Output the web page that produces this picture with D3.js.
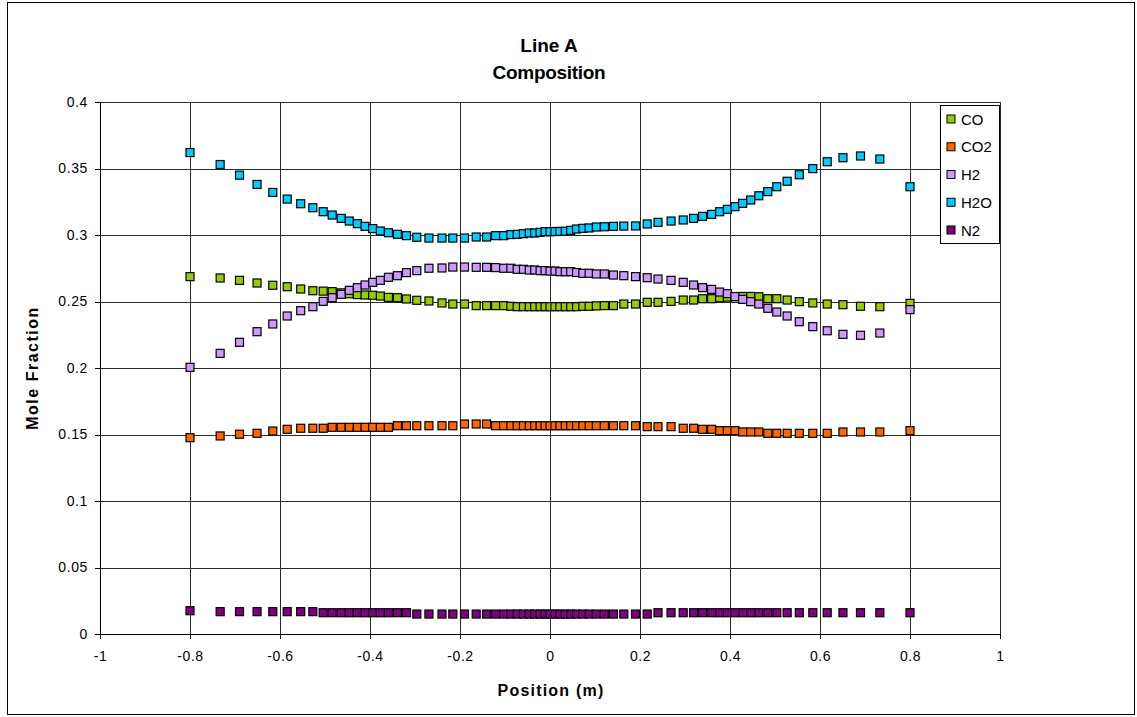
<!DOCTYPE html>
<html>
<head>
<meta charset="utf-8">
<script src="https://cdn.jsdelivr.net/npm/d3@7"></script>
<style>
  html, body { margin: 0; padding: 0; background: #fff; }
  svg { display: block; font-family: Arial, "Liberation Sans", sans-serif; }
</style>
</head>
<body>
<svg id="chart" width="1137" height="717"></svg>
<script>
// ---------- data ----------
const positions = [-0.8,-0.733,-0.690,-0.651,-0.616,-0.584,-0.554,-0.527,-0.504,-0.484,-0.464,-0.446,-0.428,-0.411,-0.394,-0.377,-0.359,-0.339,-0.319,-0.296,-0.269,-0.240,-0.216,-0.190,-0.164,-0.141,-0.121,-0.103,-0.087,-0.073,-0.059,-0.046,-0.034,-0.022,-0.011,0,
  0.011,0.022,0.034,0.046,0.059,0.073,0.087,0.103,0.121,0.141,0.164,0.190,0.216,0.240,0.269,0.296,0.319,0.339,0.359,0.377,0.394,0.411,0.428,0.446,0.464,0.484,0.504,0.527,0.554,0.584,0.616,0.651,0.690,0.733,0.8];

const seriesNames = ["CO", "CO2", "H2", "H2O", "N2"];

const CO = [0.2687,0.2677,0.2659,0.2639,0.2622,0.2611,0.2594,0.2581,0.2578,0.2574,0.2565,0.2558,0.2552,0.2549,0.2547,0.2541,0.2531,0.2529,0.2519,0.2509,0.2504,0.2489,0.2481,0.2481,0.2469,0.2469,0.2469,0.2469,0.2464,0.2461,0.2461,0.2461,0.2461,0.2461,0.2461,0.2461,
  0.2461,0.2461,0.2461,0.2461,0.2461,0.2464,0.2464,0.2467,0.2469,0.2469,0.2481,0.2481,0.2494,0.2494,0.2501,0.2511,0.2511,0.2521,0.2521,0.2528,0.2533,0.2536,0.2538,0.2538,0.2536,0.2521,0.2521,0.2511,0.2499,0.2489,0.2481,0.2476,0.2464,0.2461,0.2486];

const CO2 = [0.1476,0.1489,0.1502,0.1509,0.1526,0.1539,0.1547,0.1547,0.1547,
  0.1554,0.1554,0.1554,0.1554,0.1554,0.1554,0.1554,0.1554,
  0.1566,0.1566,0.1566,0.1566,0.1566,0.1566,
  0.1579,0.1579,0.1579,
  0.1566,0.1566,0.1566,0.1566,0.1566,0.1566,0.1566,0.1566,0.1566,0.1566,0.1566,0.1566,0.1566,0.1566,0.1566,0.1566,0.1566,0.1566,0.1566,0.1566,0.1566,0.1566,
  0.1559,0.1559,0.1559,
  0.1547,0.1547,
  0.1539,0.1539,
  0.1529,0.1529,0.1529,
  0.1519,0.1519,0.1519,
  0.1509,0.1509,0.1509,0.1509,0.1509,0.1509,
  0.1519,0.1519,0.1519,
  0.1529];

const H2 = [0.2005,0.2110,0.2193,0.2273,0.2331,0.2391,0.2431,0.2461,0.2501,0.2529,0.2554,0.2584,0.2604,0.2624,0.2644,0.2659,0.2682,0.2694,0.2717,0.2732,0.2750,0.2752,0.2759,0.2759,0.2757,0.2757,0.2755,0.2750,0.2750,0.2742,0.2742,0.2737,0.2737,0.2732,0.2732,0.2729,
  0.2729,0.2724,0.2724,0.2724,0.2718,0.2712,0.2712,0.2707,0.2707,0.2699,0.2694,0.2687,0.2679,0.2669,0.2659,0.2644,0.2624,0.2604,0.2591,0.2571,0.2559,0.2537,0.2516,0.2499,0.2481,0.2449,0.2421,0.2391,0.2348,0.2311,0.2280,0.2253,0.2246,0.2263,0.2439];

const H2O = [0.3620,0.3530,0.3450,0.3380,0.3320,0.3270,0.3235,0.3205,0.3175,0.3150,0.3125,0.3105,0.3085,0.3065,0.3048,0.3030,0.3017,0.3005,0.2995,0.2983,0.2977,0.2977,0.2977,0.2977,0.2985,0.2985,0.2995,0.2995,0.3003,0.3005,0.3010,0.3015,0.3015,0.3020,0.3025,0.3025,
  0.3026,0.3027,0.3028,0.3035,0.3045,0.3050,0.3053,0.3060,0.3062,0.3065,0.3067,0.3068,0.3083,0.3095,0.3105,0.3113,0.3125,0.3140,0.3155,0.3175,0.3193,0.3213,0.3238,0.3263,0.3295,0.3326,0.3363,0.3404,0.3453,0.3499,0.3551,0.3581,0.3594,0.3571,0.3363];

const N2 = [0.0175,
  0.0168,0.0168,0.0168,0.0168,0.0168,0.0168,0.0168,
  0.0160,0.0160,0.0160,0.0160,0.0160,0.0160,0.0160,0.0160,0.0160,0.0160,0.0160,
  0.0150,0.0150,0.0150,0.0150,0.0150,0.0150,0.0150,0.0150,0.0150,0.0150,0.0150,0.0150,0.0150,0.0150,0.0150,0.0150,0.0150,0.0150,0.0150,0.0150,0.0150,0.0150,0.0150,0.0150,0.0150,0.0150,0.0150,0.0150,0.0150,0.0150,
  0.0160,0.0160,0.0160,0.0160,0.0160,0.0160,0.0160,0.0160,0.0160,0.0160,0.0160,0.0160,0.0160,0.0160,0.0160,0.0160,0.0160,0.0160,0.0160,0.0160,0.0160,0.0160];

const xTickValues = [-1,-0.8,-0.6,-0.4,-0.2,0,0.2,0.4,0.6,0.8,1];
const xTickLabels = ["-1","-0.8","-0.6","-0.4","-0.2","0","0.2","0.4","0.6","0.8","1"];
const yTickValues = [0,0.05,0.1,0.15,0.2,0.25,0.3,0.35,0.4];
const yTickLabels = ["0","0.05","0.1","0.15","0.2","0.25","0.3","0.35","0.4"];

const colors = {CO: "#99CC00", CO2: "#FF6600", H2: "#CC99FF", H2O: "#00CCFF", N2: "#800080"};
const valuesByName = {CO: CO, CO2: CO2, H2: H2, H2O: H2O, N2: N2};

// ---------- layout ----------
const plot = {left: 100, right: 1000, top: 102, bottom: 634};

const svg = d3.select("#chart");

// outer chart border
svg.append("rect").attr("x", 7.5).attr("y", 2.5).attr("width", 1127).attr("height", 712)
  .attr("fill", "#fff").attr("stroke", "#000").attr("stroke-width", 1);

const x = d3.scaleLinear().domain([-1, 1]).range([plot.left, plot.right]);
const y = d3.scaleLinear().domain([0, 0.4]).range([plot.bottom, plot.top]);

// plot background
svg.append("rect").attr("x", plot.left).attr("y", plot.top)
  .attr("width", plot.right - plot.left).attr("height", plot.bottom - plot.top)
  .attr("fill", "#fff");

// gridlines
const grid = svg.append("g").attr("shape-rendering", "crispEdges");
grid.selectAll("line.h").data(yTickValues.slice(1)).join("line")
  .attr("x1", plot.left).attr("x2", plot.right)
  .attr("y1", d => Math.round(y(d)) + 0.5).attr("y2", d => Math.round(y(d)) + 0.5)
  .attr("stroke", "#2a2a2a").attr("stroke-width", 1);
grid.selectAll("line.v").data(xTickValues.slice(1)).join("line")
  .attr("y1", plot.top).attr("y2", plot.bottom)
  .attr("x1", d => Math.round(x(d)) + 0.5).attr("x2", d => Math.round(x(d)) + 0.5)
  .attr("stroke", "#2a2a2a").attr("stroke-width", 1);

// axes
const xAxis = d3.axisBottom(x).tickValues(xTickValues)
  .tickFormat((d, i) => xTickLabels[i]).tickSizeOuter(0).tickSizeInner(5).tickPadding(12);
const yAxis = d3.axisLeft(y).tickValues(yTickValues)
  .tickFormat((d, i) => yTickLabels[i]).tickSizeOuter(0).tickSizeInner(5).tickPadding(7);

const gx = svg.append("g").attr("transform", `translate(0,${plot.bottom})`).call(xAxis);
const gy = svg.append("g").attr("transform", `translate(${plot.left},0)`).call(yAxis);
[gx, gy].forEach(g => {
  g.selectAll("path,line").attr("stroke", "#000").attr("shape-rendering", "crispEdges");
  g.selectAll("text").attr("fill", "#000").attr("font-size", "14px")
    .attr("letter-spacing", "0.6px")
    .attr("font-family", "Arial, 'Liberation Sans', sans-serif");
});

// markers
const ms = 8;
seriesNames.forEach(name => {
  const vals = valuesByName[name];
  const pts = positions.map((p, i) => ({x: p, y: vals[i]}));
  svg.append("g").selectAll("rect").data(pts).join("rect")
    .attr("x", d => x(d.x) - ms / 2)
    .attr("y", d => y(d.y) - ms / 2)
    .attr("width", ms).attr("height", ms)
    .attr("fill", colors[name]).attr("stroke", "#000").attr("stroke-width", 1.2);
});

// titles
svg.append("text").attr("x", 549).attr("y", 52).attr("text-anchor", "middle")
  .attr("font-size", "19px").attr("font-weight", "bold").text("Line A");
svg.append("text").attr("x", 549).attr("y", 79).attr("text-anchor", "middle")
  .attr("font-size", "19px").attr("font-weight", "bold").attr("letter-spacing", "-0.3px").text("Composition");

svg.append("text").attr("x", 551).attr("y", 696).attr("text-anchor", "middle")
  .attr("font-size", "16px").attr("font-weight", "bold").attr("letter-spacing", "1.2px").text("Position (m)");
svg.append("text").attr("transform", "translate(38,368) rotate(-90)").attr("text-anchor", "middle")
  .attr("font-size", "16px").attr("font-weight", "bold").attr("letter-spacing", "1.5px").text("Mole Fraction");

// legend
const lg = svg.append("g");
lg.append("rect").attr("x", 940.5).attr("y", 105.5).attr("width", 59).attr("height", 138)
  .attr("fill", "#fff").attr("stroke", "#000").attr("stroke-width", 1);
const legendY = d3.scalePoint().domain(seriesNames).range([119, 230]);
seriesNames.forEach(name => {
  const cy = legendY(name);
  lg.append("rect").attr("x", 947).attr("y", cy - 4).attr("width", 8).attr("height", 8)
    .attr("fill", colors[name]).attr("stroke", "#000").attr("stroke-width", 1);
  lg.append("text").attr("x", 961).attr("y", cy + 5.5).attr("font-size", "15px").text(name);
});
</script>
</body>
</html>
